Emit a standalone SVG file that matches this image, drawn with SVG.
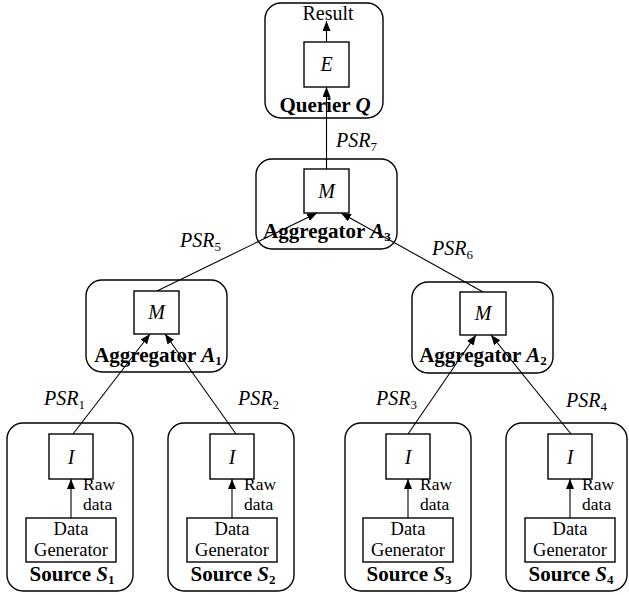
<svg xmlns="http://www.w3.org/2000/svg" width="629" height="595" viewBox="0 0 629 595">
<style>
.outer{fill:none;stroke:#000;stroke-width:1.4}
.box{fill:#fff;stroke:#000;stroke-width:1.4}
text{font-family:'Liberation Serif','DejaVu Serif',serif;font-size:20px;fill:#000}
.i{font-style:italic}
.b{font-weight:bold;font-size:21px}
.c{text-anchor:middle}
.sub{font-size:13px;font-style:normal}
.rd{font-size:17.5px}
.dg{font-size:18.5px}
.ln{stroke:#000;stroke-width:1.1;fill:none}
</style>
<defs>
<marker id="ah" viewBox="0 0 10 8" refX="10" refY="4" markerWidth="10" markerHeight="8" orient="auto" markerUnits="userSpaceOnUse"><path d="M0,0 L10,4 L0,8 z" fill="#000"/></marker>
</defs>
<g id="connectors">
<line class="ln" x1="326.5" y1="42" x2="326.5" y2="21" marker-end="url(#ah)"/>
<line class="ln" x1="326.5" y1="169" x2="326.5" y2="87" marker-end="url(#ah)"/>
<line class="ln" x1="157" y1="291" x2="317" y2="213" marker-end="url(#ah)"/>
<line class="ln" x1="483" y1="292" x2="341" y2="213" marker-end="url(#ah)"/>
<line class="ln" x1="73" y1="434" x2="150" y2="334" marker-end="url(#ah)"/>
<line class="ln" x1="236" y1="434" x2="165" y2="334" marker-end="url(#ah)"/>
<line class="ln" x1="408" y1="434" x2="476" y2="335" marker-end="url(#ah)"/>
<line class="ln" x1="571" y1="434" x2="491" y2="335" marker-end="url(#ah)"/>
<line class="ln" x1="71" y1="518" x2="71" y2="479" marker-end="url(#ah)"/>
<line class="ln" x1="232" y1="518" x2="232" y2="479" marker-end="url(#ah)"/>
<line class="ln" x1="408" y1="518" x2="408" y2="479" marker-end="url(#ah)"/>
<line class="ln" x1="570" y1="518" x2="570" y2="479" marker-end="url(#ah)"/>
<text class="i" x="336" y="147">PSR<tspan class="sub" dy="4">7</tspan></text>
<text class="i" x="180" y="247">PSR<tspan class="sub" dy="4">5</tspan></text>
<text class="i" x="432" y="255">PSR<tspan class="sub" dy="4">6</tspan></text>
<text class="i" x="44" y="405">PSR<tspan class="sub" dy="4">1</tspan></text>
<text class="i" x="238" y="405">PSR<tspan class="sub" dy="4">2</tspan></text>
<text class="i" x="376" y="405">PSR<tspan class="sub" dy="4">3</tspan></text>
<text class="i" x="566" y="407">PSR<tspan class="sub" dy="4">4</tspan></text>
</g>
<g id="querier">
<rect class="outer" x="265" y="3" width="118" height="115" rx="16"/>
<text class="c" x="328" y="20">Result</text>
<rect class="box" x="304" y="42" width="45" height="45"/>
<text class="i c" x="326.5" y="71">E</text>
<text class="b c" x="325" y="112">Querier <tspan class="i">Q</tspan></text>
</g>
<g id="aggregator3">
<rect class="outer" x="256" y="159" width="141" height="90" rx="16"/>
<rect class="box" x="304" y="169" width="45" height="44"/>
<text class="i c" x="326.5" y="198">M</text>
<text class="b c" x="327" y="238">Aggregator <tspan class="i">A</tspan><tspan class="sub b" dy="3">3</tspan></text>
</g>
<g id="aggregator1">
<rect class="outer" x="86" y="280" width="141" height="92" rx="16"/>
<rect class="box" x="134" y="291" width="45" height="43"/>
<text class="i c" x="156.5" y="319">M</text>
<text class="b c" x="158" y="362">Aggregator <tspan class="i">A</tspan><tspan class="sub b" dy="3">1</tspan></text>
</g>
<g id="aggregator2">
<rect class="outer" x="412" y="282" width="141" height="91" rx="16"/>
<rect class="box" x="460" y="292" width="46" height="43"/>
<text class="i c" x="483" y="320">M</text>
<text class="b c" x="483" y="362">Aggregator <tspan class="i">A</tspan><tspan class="sub b" dy="3">2</tspan></text>
</g>
<g id="source1">
<rect class="outer" x="7" y="423" width="126" height="168" rx="16"/>
<rect class="box" x="49" y="434" width="44" height="45"/>
<text class="i c" x="71" y="464">I</text>
<text class="rd" x="83" y="490">Raw</text>
<text class="rd" x="83" y="510">data</text>
<rect class="box" x="26" y="518" width="90" height="44"/>
<text class="dg c" x="71" y="535">Data</text>
<text class="dg c" x="71" y="556">Generator</text>
<text class="b c" x="72" y="581">Source <tspan class="i">S</tspan><tspan class="sub b" dy="3">1</tspan></text>
</g>
<g id="source2">
<rect class="outer" x="168" y="423" width="126" height="168" rx="16"/>
<rect class="box" x="210" y="434" width="44" height="45"/>
<text class="i c" x="232" y="464">I</text>
<text class="rd" x="244" y="490">Raw</text>
<text class="rd" x="244" y="510">data</text>
<rect class="box" x="187" y="518" width="90" height="44"/>
<text class="dg c" x="232" y="535">Data</text>
<text class="dg c" x="232" y="556">Generator</text>
<text class="b c" x="233" y="581">Source <tspan class="i">S</tspan><tspan class="sub b" dy="3">2</tspan></text>
</g>
<g id="source3">
<rect class="outer" x="345" y="423" width="126" height="168" rx="16"/>
<rect class="box" x="386" y="434" width="44" height="45"/>
<text class="i c" x="408" y="464">I</text>
<text class="rd" x="420" y="490">Raw</text>
<text class="rd" x="420" y="510">data</text>
<rect class="box" x="363" y="518" width="90" height="44"/>
<text class="dg c" x="408" y="535">Data</text>
<text class="dg c" x="408" y="556">Generator</text>
<text class="b c" x="409" y="581">Source <tspan class="i">S</tspan><tspan class="sub b" dy="3">3</tspan></text>
</g>
<g id="source4">
<rect class="outer" x="506" y="423" width="121" height="168" rx="16"/>
<rect class="box" x="548" y="434" width="44" height="45"/>
<text class="i c" x="570" y="464">I</text>
<text class="rd" x="582" y="490">Raw</text>
<text class="rd" x="582" y="510">data</text>
<rect class="box" x="525" y="518" width="90" height="44"/>
<text class="dg c" x="570" y="535">Data</text>
<text class="dg c" x="570" y="556">Generator</text>
<text class="b c" x="571" y="581">Source <tspan class="i">S</tspan><tspan class="sub b" dy="3">4</tspan></text>
</g>
</svg>
